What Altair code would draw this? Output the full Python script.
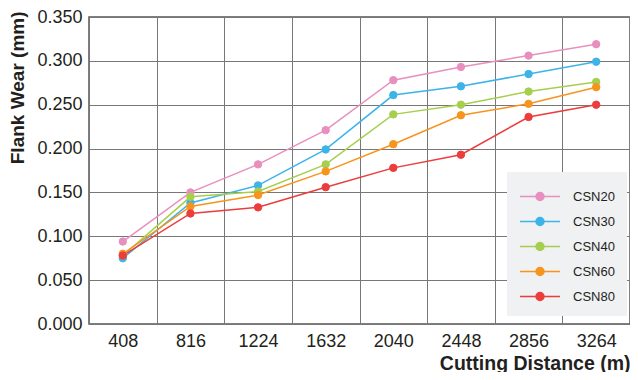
import altair as alt
import pandas as pd

distances = ["408", "816", "1224", "1632", "2040", "2448", "2856", "3264"]
series_names = ["CSN20", "CSN30", "CSN40", "CSN60", "CSN80"]
csn20 = [0.094, 0.150, 0.182, 0.221, 0.278, 0.293, 0.306, 0.319]
csn30 = [0.075, 0.138, 0.158, 0.199, 0.261, 0.271, 0.285, 0.299]
csn40 = [0.078, 0.145, 0.151, 0.182, 0.239, 0.250, 0.265, 0.276]
csn60 = [0.080, 0.134, 0.147, 0.174, 0.205, 0.238, 0.251, 0.270]
csn80 = [0.078, 0.126, 0.133, 0.156, 0.178, 0.193, 0.236, 0.250]
colors = ["#e98fbf", "#3cb4e7", "#a5cf4c", "#f7941e", "#ec3c3c"]
y_ticks = [0.0, 0.05, 0.10, 0.15, 0.20, 0.25, 0.30, 0.35]

rows = []
for name, vals in zip(series_names, [csn20, csn30, csn40, csn60, csn80]):
    for d, v in zip(distances, vals):
        rows.append({"dist": d, "wear": v, "series": name})
df = pd.DataFrame(rows)

FONT = "Liberation Sans"
TEXT = "#231f20"
W, H = 541, 307

x_enc = alt.X(
    "dist:O",
    sort=distances,
    scale=alt.Scale(type="band", paddingInner=0, paddingOuter=0),
    axis=alt.Axis(
        title="Cutting Distance (m)",
        labelAngle=0,
        tickBand="extent",
        grid=True,
        ticks=False,
        domain=False,
        labelFontSize=18,
        labelPadding=8,
        labelColor=TEXT,
        labelFont=FONT,
        titleFont=FONT,
        titleFontSize=19.5,
        titleFontWeight="bold",
        titleColor=TEXT,
        titleAnchor="end",
        titleAlign="right",
        titleBaseline="alphabetic",
        titleX=W,
        titleY=45,
    ),
)
y_enc = alt.Y(
    "wear:Q",
    scale=alt.Scale(domain=[0, 0.35], nice=False),
    axis=alt.Axis(
        title="Flank Wear (mm)",
        values=y_ticks,
        format=".3f",
        grid=True,
        ticks=False,
        domain=False,
        labelFontSize=18,
        labelPadding=7,
        labelColor=TEXT,
        labelFont=FONT,
        titleFont=FONT,
        titleFontSize=19,
        titleFontWeight="bold",
        titleColor=TEXT,
        titleAngle=270,
        titleAlign="right",
        titleBaseline="middle",
        titleX=-72,
        titleY=-6,
    ),
)

color_scale = alt.Scale(domain=series_names, range=colors)
legend_path = "M-1,0L1,0M0.2,0A0.2,0.2,0,1,1,-0.2,0A0.2,0.2,0,1,1,0.2,0Z"
legend = alt.Legend(
    title=" ",
    titleFontSize=1,
    titlePadding=5,
    orient="none",
    legendX=418,
    legendY=155,
    padding=12,
    fillColor="#f0f1f3",
    symbolType=legend_path,
    symbolSize=1600,
    symbolStrokeWidth=1.5,
    symbolOpacity=1,
    clipHeight=13,
    labelFontSize=13,
    labelFont=FONT,
    labelColor=TEXT,
    labelOffset=12,
    rowPadding=11,
)

lines = alt.Chart(df).mark_line(strokeWidth=1.5).encode(
    x=x_enc,
    y=y_enc,
    stroke=alt.Stroke("series:N", scale=color_scale, legend=legend),
)
points = alt.Chart(df).mark_point(size=55, opacity=1, strokeWidth=1).encode(
    x=x_enc,
    y=y_enc,
    fill=alt.Fill("series:N", scale=color_scale, legend=legend),
    stroke=alt.Stroke("series:N", scale=color_scale, legend=legend),
)

chart = (
    alt.layer(lines, points)
    .properties(
        width=W,
        height=H,
        autosize=alt.AutoSizeParams(type="none"),
        padding={"left": 81, "top": 9, "right": 0, "bottom": 48},
        background="white",
    )
    .configure_view(stroke="#555555", strokeWidth=1.5)
    .configure_axis(gridColor="#777777", gridWidth=1, gridOpacity=1)
)

chart.save("out.html", embed_options={"renderer": "svg", "actions": False})
